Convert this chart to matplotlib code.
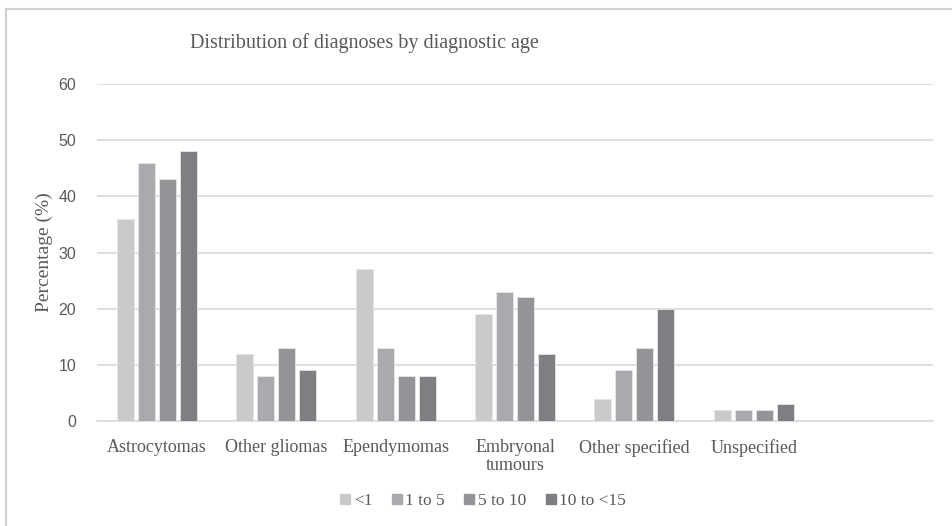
import numpy as np
import matplotlib.pyplot as plt
from matplotlib.lines import Line2D

# Data
categories = ['Astrocytomas', 'Other gliomas', 'Ependymomas', 'Embryonal\ntumours',
              'Other specified', 'Unspecified']
age_groups = ['<1', '1 to 5', '5 to 10', '10 to <15']
lt1 = [36, 12, 27, 19, 4, 2]
age_1_5 = [46, 8, 13, 23, 9, 2]
age_5_10 = [43, 13, 8, 22, 13, 2]
age_10_15 = [48, 9, 8, 12, 20, 3]
series = [lt1, age_1_5, age_5_10, age_10_15]
colors = ['#c9cacc', '#a9aaad', '#939497', '#7e7f82']

serif = ['Liberation Serif', 'DejaVu Serif']
sans = ['Liberation Sans', 'DejaVu Sans']

fig = plt.figure(figsize=(9.53, 5.26), dpi=100)
ax = fig.add_axes([0.1018, 0.1996, 0.8772, 0.6407])

x = np.arange(len(categories))
step = 0.176
for i, (vals, col) in enumerate(zip(series, colors)):
    ax.bar(x + (i - 1.5) * step, vals, width=0.143, color=col,
           edgecolor='#e6e6e6', linewidth=0.6, label=age_groups[i], zorder=3)

ax.set_xlim(-0.5, 6.5)
ax.set_ylim(0, 60)
ax.set_yticks(range(0, 61, 10))
ax.yaxis.grid(True, color='#d9d9d9', linewidth=1.2, zorder=0)
for s in ['top', 'right', 'left']:
    ax.spines[s].set_visible(False)
ax.spines['bottom'].set_color('#d9d9d9')
ax.spines['bottom'].set_linewidth(1.2)
ax.tick_params(axis='both', length=0)
ax.tick_params(axis='y', pad=15, labelsize=11.5, labelcolor='#595959')
for t in ax.get_yticklabels():
    t.set_family(sans)

ax.set_xticks(x)
ax.set_xticklabels(categories, family=serif, fontsize=13, color='#595959',
                   linespacing=1.1)
ax.tick_params(axis='x', pad=13)

ax.set_ylabel('Percentage (%)', family=serif, fontsize=14, color='#595959', labelpad=4)

fig.text(0.382, 0.918, 'Distribution of diagnoses by diagnostic age', family=serif,
         fontsize=14.5, color='#595959', ha='center', va='center')

handles = [Line2D([], [], marker='s', linestyle='none', markersize=7,
                  markerfacecolor=c, markeredgecolor=c) for c in colors]
fig.legend(handles, age_groups, loc='center', bbox_to_anchor=(0.506, 0.047), ncol=4,
           frameon=False, prop={'family': serif, 'size': 12.5}, labelcolor='#595959',
           handletextpad=0.1, columnspacing=1.0, handlelength=0.8)

# light frame around the chart (only top and left edges show)
fig.add_artist(Line2D([0.006, 1.0], [0.983, 0.983], transform=fig.transFigure,
                      color='#d0d0d0', linewidth=1.5))
fig.add_artist(Line2D([0.006, 0.006], [0.0, 0.983], transform=fig.transFigure,
                      color='#d0d0d0', linewidth=1.5))

fig.savefig('out.png', dpi=100)
